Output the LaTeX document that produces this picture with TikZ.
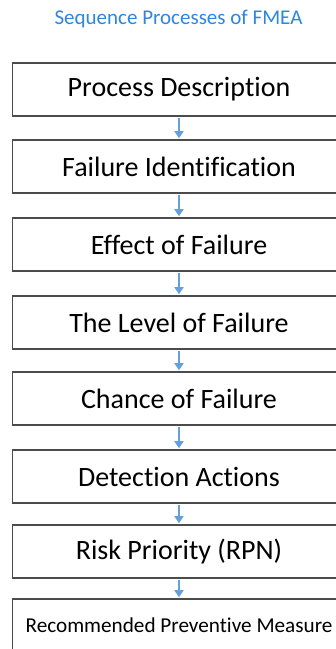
\documentclass[tikz,border=0pt]{standalone}
\usepackage{fontspec}
\setmainfont[Ligatures={NoCommon}]{Carlito}
\usetikzlibrary{arrows.meta}
\definecolor{titleblue}{RGB}{46,134,222}
\definecolor{flowblue}{RGB}{100,160,218}
\definecolor{boxline}{RGB}{75,75,75}
\begin{document}
\begin{tikzpicture}[x=1pt,y=-1pt,
  stepbox/.style={draw=boxline, line width=1.8pt, fill=white, inner sep=0pt,
    minimum width=333pt, minimum height=53pt, anchor=center,
    font=\fontsize{28}{32}\selectfont},
  smallbox/.style={stepbox, font=\fontsize{21.2}{24}\selectfont},
  flow/.style={draw=flowblue, line width=1.7pt,
    -{Triangle[width=9pt,length=7pt]}, shorten >=0.9pt, shorten <=0.9pt}]
  \clip (0,0) rectangle (336,649);
  \fill[white] (0,0) rectangle (336,649);

  % heading
  \node[text=titleblue, font=\fontsize{21}{24}\selectfont, anchor=center] (title) at (178.5,19) {Sequence Processes of FMEA};

  % process steps
  \node[stepbox] (s1) at (179,89.5)  {Process Description};
  \node[stepbox] (s2) at (179,166.5) {Failure Identification};
  \node[stepbox] (s3) at (179,244.5) {Effect of Failure};
  \node[stepbox] (s4) at (179,322.5) {The Level of Failure};
  \node[stepbox] (s5) at (179,398.5) {Chance of Failure};
  \node[stepbox] (s6) at (179,476.5) {Detection Actions};
  \node[stepbox] (s7) at (179,551.5) {Risk Priority (RPN)};
  \node[smallbox] (s8) at (179,625.5) {Recommended Preventive Measure};

  % connectors
  \foreach \a/\b in {s1/s2,s2/s3,s3/s4,s4/s5,s5/s6,s6/s7,s7/s8}
    \draw[flow] (\a.south) -- (\b.north);
\end{tikzpicture}
\end{document}
